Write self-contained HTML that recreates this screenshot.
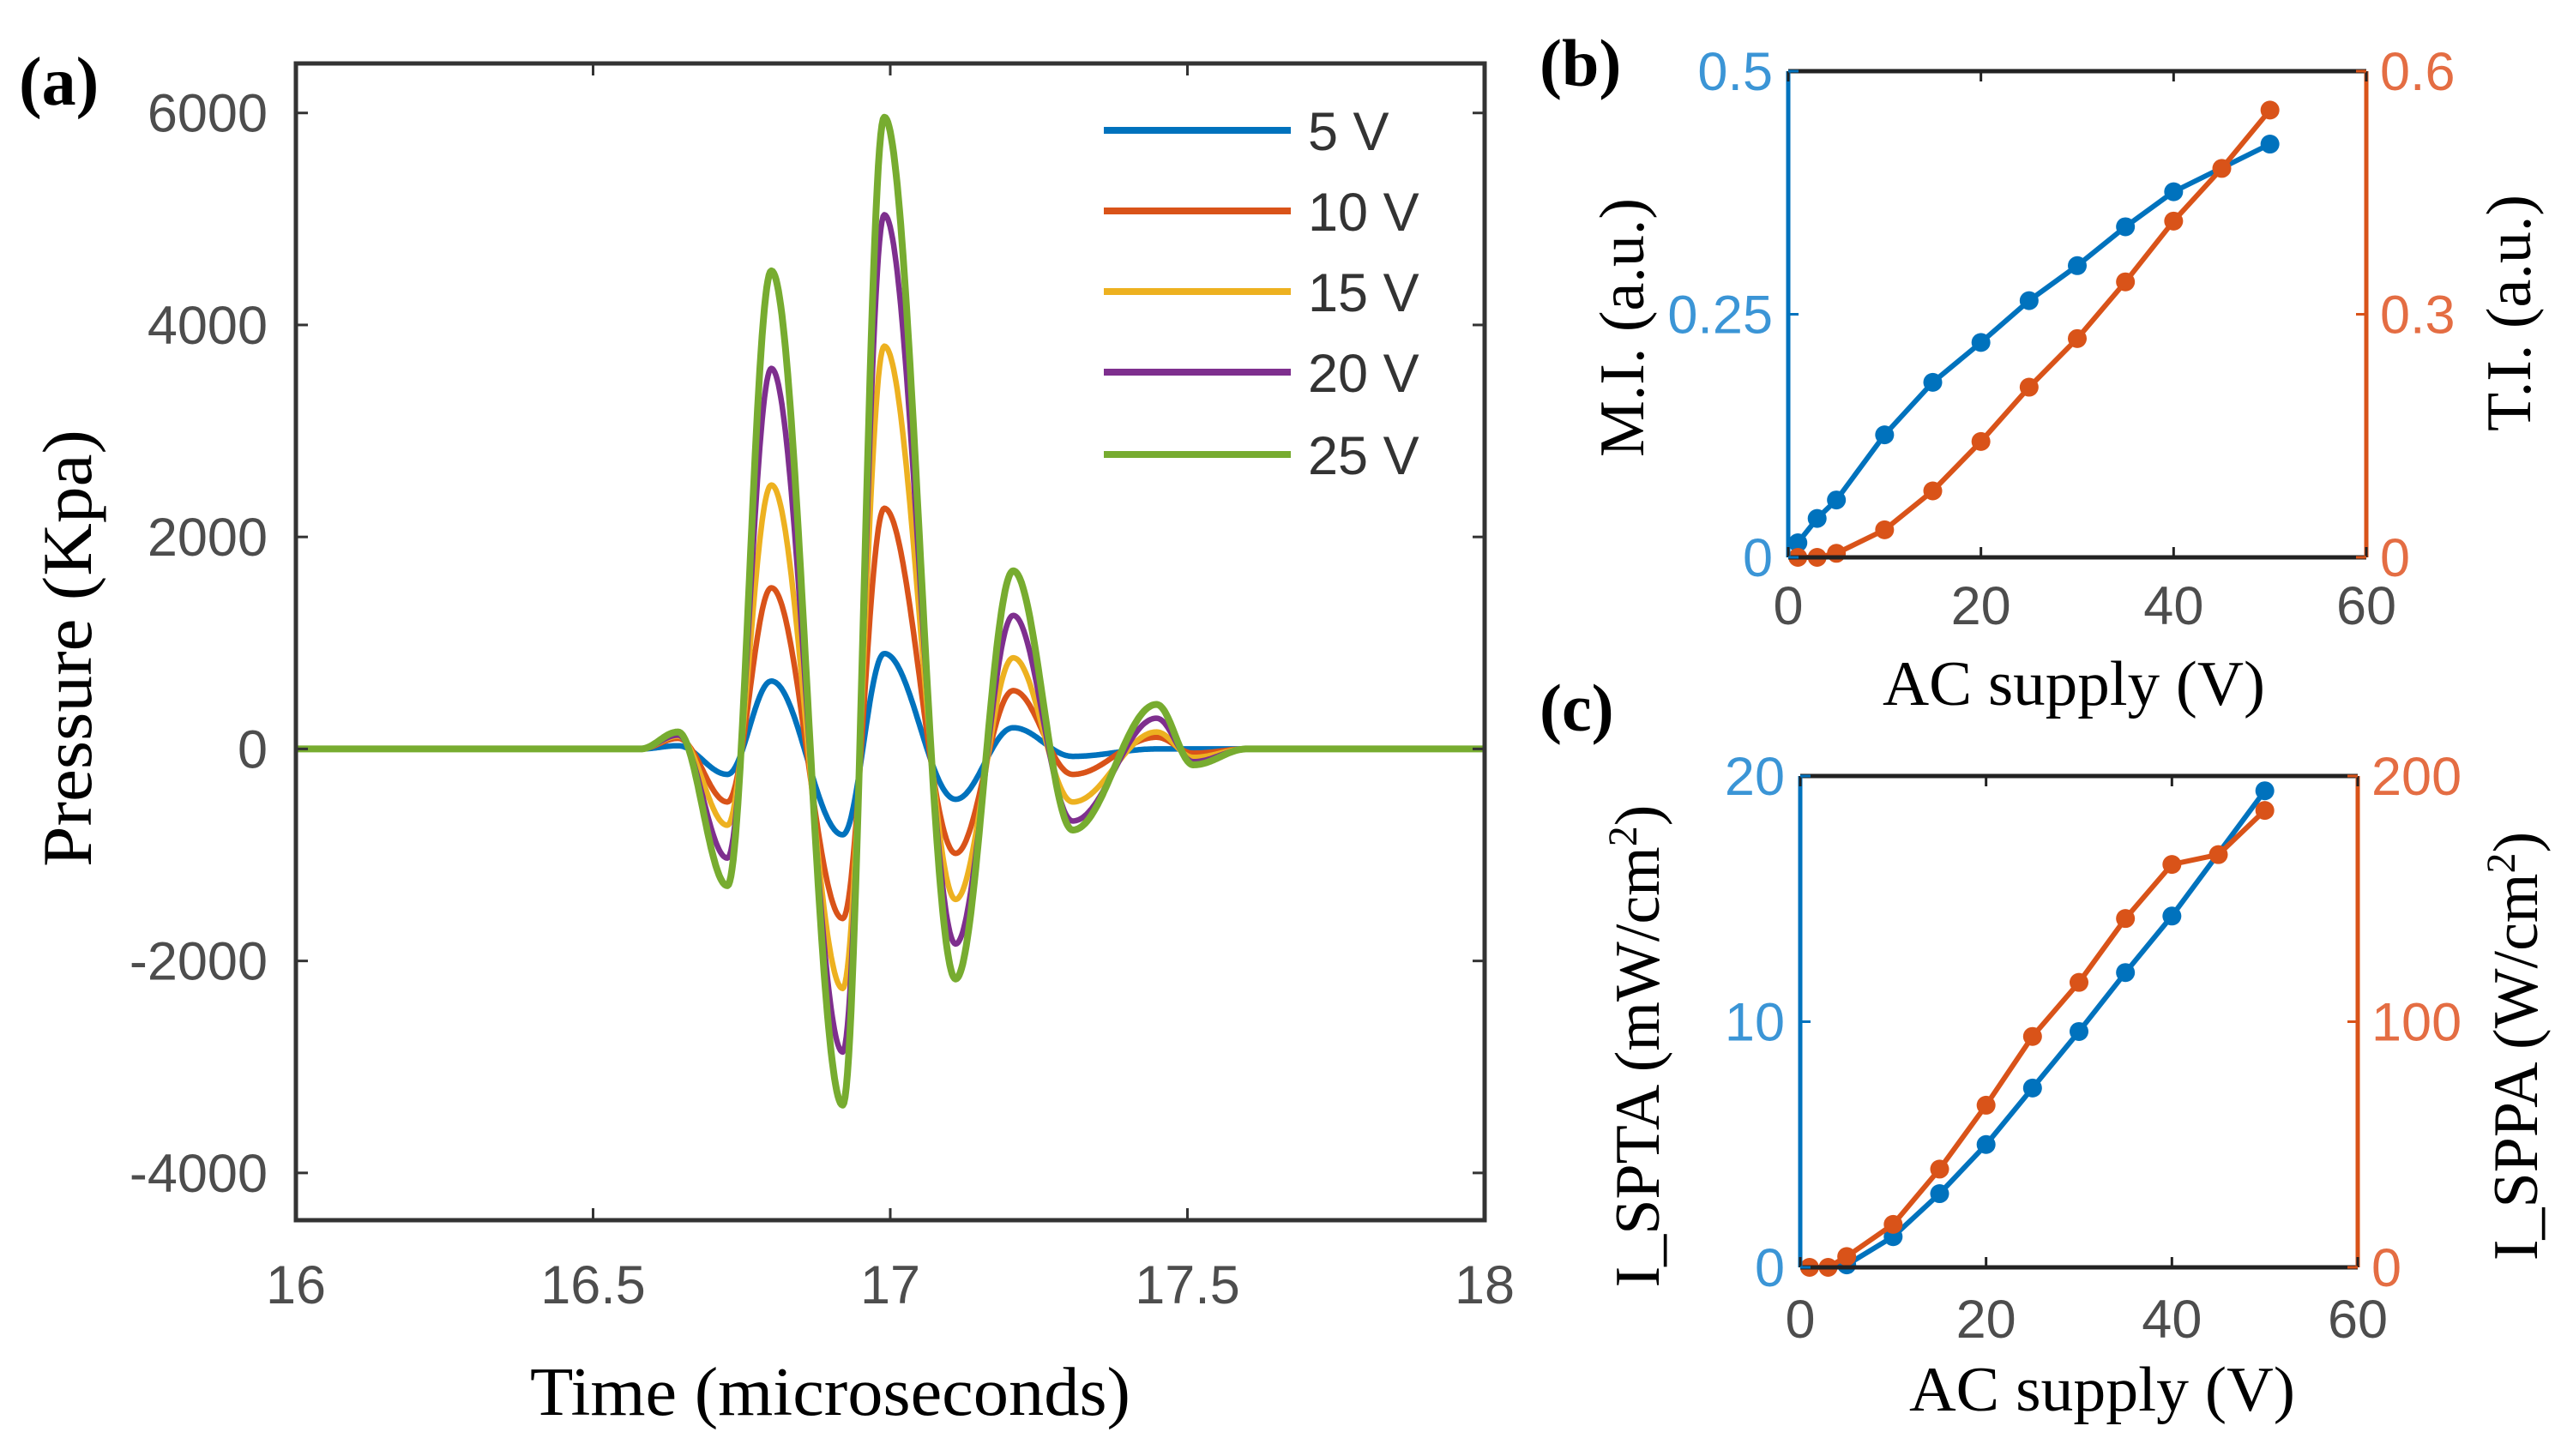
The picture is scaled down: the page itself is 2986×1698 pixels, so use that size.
<!DOCTYPE html>
<html><head><meta charset="utf-8"><style>
html,body{margin:0;padding:0;background:#fff;}
svg{display:block;}
.tk{font-family:"Liberation Sans",sans-serif;font-size:63px;fill:#4d4d4d;}
.sf{font-family:"Liberation Serif",serif;fill:#000;}
</style></head><body>
<svg id="fig" width="2986" height="1698" viewBox="0 0 2986 1698" xmlns="http://www.w3.org/2000/svg">
<g id="pa"></g>
<g id="pb"></g>
<g id="pc"></g>
</svg>
<script>
// ---- Panel (a) data ----
const timeKnots = [16, 16.58, 16.643, 16.726, 16.80, 16.92, 16.99, 17.11, 17.207, 17.307, 17.448, 17.51, 17.6, 18];
const p5V  = [0, 0, 30, -240, 640, -810, 900, -475, 200, -70, 0, 0, 0, 0];
const p10V = [0, 0, 100, -500, 1520, -1600, 2270, -985, 550, -240, 110, -40, 0, 0];
const p15V = [0, 0, 120, -720, 2490, -2260, 3800, -1420, 860, -500, 160, -80, 0, 0];
const p20V = [0, 0, 130, -1030, 3590, -2860, 5040, -1840, 1260, -680, 290, -120, 0, 0];
const p25V = [0, 0, 160, -1290, 4510, -3360, 5960, -2170, 1680, -765, 420, -150, 0, 0];
const seriesLabels = ["5 V", "10 V", "15 V", "20 V", "25 V"];
const aXTicks = [16, 16.5, 17, 17.5, 18];
const aXTickLabels = ["16", "16.5", "17", "17.5", "18"];
const aYTicks = [-4000, -2000, 0, 2000, 4000, 6000];
const aYTickLabels = ["-4000", "-2000", "0", "2000", "4000", "6000"];
// ---- Panel (b) data ----
const bVoltMI = [1, 3, 5, 10, 15, 20, 25, 30, 35, 40, 50];
const bMI = [0.015, 0.04, 0.059, 0.126, 0.18, 0.221, 0.264, 0.3, 0.34, 0.376, 0.425];
const bVoltTI = [1, 3, 5, 10, 15, 20, 25, 30, 35, 40, 45, 50];
const bTI = [0, 0, 0.005, 0.034, 0.082, 0.143, 0.21, 0.27, 0.34, 0.415, 0.48, 0.552];
const bLeftTicks = [0, 0.25, 0.5];
const bLeftTickLabels = ["0", "0.25", "0.5"];
const bRightTicks = [0, 0.3, 0.6];
const bRightTickLabels = ["0", "0.3", "0.6"];
// ---- Panel (c) data ----
const cVoltSPTA = [5, 10, 15, 20, 25, 30, 35, 40, 50];
const cSPTA = [0.1, 1.25, 3.0, 5.0, 7.3, 9.6, 12.0, 14.3, 19.4];
const cVoltSPPA = [1, 3, 5, 10, 15, 20, 25, 30, 35, 40, 45, 50];
const cSPPA = [0, 0, 4.4, 17.5, 40, 66, 94, 116, 142, 164, 168, 186];
const cLeftTicks = [0, 10, 20];
const cLeftTickLabels = ["0", "10", "20"];
const cRightTicks = [0, 100, 200];
const cRightTickLabels = ["0", "100", "200"];
const acTicks = [0, 20, 40, 60];
const acTickLabels = ["0", "20", "40", "60"];

const NS = "http://www.w3.org/2000/svg";
const BLUE = "#0072BD", ORANGE = "#D95319";
const COLORS = ["#0072BD", "#D95319", "#EDB120", "#7E2F8E", "#77AC30"];
function mk(parent, tag, attrs, text) {
  const e = document.createElementNS(NS, tag);
  for (const k in attrs) e.setAttribute(k, attrs[k]);
  if (text !== undefined) e.textContent = text;
  parent.appendChild(e);
  return e;
}

// ================= Panel (a) =================
(function () {
  const g = document.getElementById("pa");
  const L = 345, R = 1731, T = 74, B = 1423;
  const xMin = 16, xMax = 18, yMin = -4446, yMax = 6467;
  const xs = v => L + (v - xMin) / (xMax - xMin) * (R - L);
  const ys = v => B - (v - yMin) / (yMax - yMin) * (B - T);
  const series = [p5V, p10V, p15V, p20V, p25V];
  series.forEach((vals, si) => {
    let d = "";
    for (let i = 0; i < timeKnots.length - 1; i++) {
      const t0 = timeKnots[i], t1 = timeKnots[i + 1];
      const n = Math.max(4, Math.ceil((t1 - t0) / 0.002));
      for (let j = (i === 0 ? 0 : 1); j <= n; j++) {
        const u = j / n;
        const w = (1 - Math.cos(Math.PI * u)) / 2;
        const v = vals[i] + (vals[i + 1] - vals[i]) * w;
        const t = t0 + (t1 - t0) * u;
        d += (d ? "L" : "M") + xs(t).toFixed(1) + " " + ys(v).toFixed(1);
      }
    }
    const p = mk(g, "path", {d: d, fill: "none", stroke: COLORS[si], "stroke-width": si === 4 ? 8 : 6.5, "stroke-linejoin": "round"});
    
    
  });
  const box = mk(g, "rect", {x: L, y: T, width: R - L, height: B - T, fill: "none", stroke: "#333", "stroke-width": 5});
  
  
  aXTicks.forEach((v, i) => {
    const x = xs(v);
    mk(g, "line", {x1: x, x2: x, y1: B, y2: B - 14, stroke: "#333", "stroke-width": 3});
    mk(g, "line", {x1: x, x2: x, y1: T, y2: T + 14, stroke: "#333", "stroke-width": 3});
    const t = mk(g, "text", {x: x, y: 1520, "text-anchor": "middle", class: "tk"}, aXTickLabels[i]);
    
    
  });
  aYTicks.forEach((v, i) => {
    const y = ys(v);
    mk(g, "line", {x1: L, x2: L + 14, y1: y, y2: y, stroke: "#333", "stroke-width": 3});
    mk(g, "line", {x1: R, x2: R - 14, y1: y, y2: y, stroke: "#333", "stroke-width": 3});
    const t = mk(g, "text", {x: 312, y: y + 22, "text-anchor": "end", class: "tk"}, aYTickLabels[i]);
    
    
  });
  const legY = [152, 246, 340, 434, 530];
  const leg = mk(g, "g", {});
  
  
  seriesLabels.forEach((lab, i) => {
    const e = mk(leg, "g", {});
    
    
    mk(e, "line", {x1: 1287, x2: 1505, y1: legY[i], y2: legY[i], stroke: COLORS[i], "stroke-width": 8});
    mk(e, "text", {x: 1525, y: legY[i] + 23, class: "tk", style: "fill:#333"}, lab);
  });
  const xl = mk(g, "text", {x: 968, y: 1650, "text-anchor": "middle", class: "sf", "font-size": 80, textLength: 700, lengthAdjust: "spacingAndGlyphs"}, "Time (microseconds)");
  
  
  const yl = mk(g, "text", {x: 0, y: 0, "text-anchor": "middle", class: "sf", "font-size": 82, textLength: 510, lengthAdjust: "spacingAndGlyphs", transform: "translate(106,756) rotate(-90)"}, "Pressure (Kpa)");
  
  
  const pl = mk(g, "text", {x: 22, y: 122, class: "sf", "font-size": 80, "font-weight": "bold"}, "(a)");
  
  
})();

// ================= Panels (b) and (c) =================
function dualPanel(g, cfg) {
  const {L, R, T, B} = cfg;
  const xs = v => L + v / 60 * (R - L);
  const yl = v => B - v / cfg.lMax * (B - T);
  const yr = v => B - v / cfg.rMax * (B - T);
  function line(xv, yv, scale, color, name) {
    const d = xv.map((x, i) => (i ? "L" : "M") + xs(x).toFixed(1) + " " + scale(yv[i]).toFixed(1)).join("");
    const p = mk(g, "path", {d: d, fill: "none", stroke: color, "stroke-width": 6, "stroke-linejoin": "round"});
    
    
    xv.forEach((x, i) => {
      const c = mk(g, "circle", {cx: xs(x), cy: scale(yv[i]), r: 11, fill: color});
      
      
    });
  }
  line(cfg.lx, cfg.ly, yl, BLUE, cfg.lName);
  line(cfg.rx, cfg.ry, yr, ORANGE, cfg.rName);
  mk(g, "line", {x1: L, x2: R, y1: T, y2: T, stroke: "#222", "stroke-width": 5});
  mk(g, "line", {x1: L, x2: R, y1: B, y2: B, stroke: "#222", "stroke-width": 5});
  mk(g, "line", {x1: L, x2: L, y1: T, y2: B, stroke: BLUE, "stroke-width": 5});
  mk(g, "line", {x1: R, x2: R, y1: T, y2: B, stroke: ORANGE, "stroke-width": 5});
  acTicks.forEach((v, i) => {
    const x = xs(v);
    mk(g, "line", {x1: x, x2: x, y1: B, y2: B - 12, stroke: "#222", "stroke-width": 3});
    mk(g, "line", {x1: x, x2: x, y1: T, y2: T + 12, stroke: "#222", "stroke-width": 3});
    const t = mk(g, "text", {x: x, y: cfg.xTickY, "text-anchor": "middle", class: "tk"}, acTickLabels[i]);
    
    
  });
  cfg.lTicks.forEach((v, i) => {
    const y = yl(v);
    mk(g, "line", {x1: L, x2: L + 12, y1: y, y2: y, stroke: BLUE, "stroke-width": 3});
    const t = mk(g, "text", {x: L - 18, y: y + 22, "text-anchor": "end", class: "tk", style: "fill:#3b95d6"}, cfg.lLabels[i]);
    
    
  });
  cfg.rTicks.forEach((v, i) => {
    const y = yr(v);
    mk(g, "line", {x1: R, x2: R - 12, y1: y, y2: y, stroke: ORANGE, "stroke-width": 3});
    const t = mk(g, "text", {x: R + 16, y: y + 22, "text-anchor": "start", class: "tk", style: "fill:#e46d43"}, cfg.rLabels[i]);
    
    
  });
  const xt = mk(g, "text", {x: (cfg.xTitleL + cfg.xTitleR) / 2, y: cfg.xTitleY, "text-anchor": "middle", class: "sf", "font-size": 74, textLength: cfg.xTitleR - cfg.xTitleL, lengthAdjust: "spacingAndGlyphs"}, "AC supply (V)");
  
  
  function ytitle(cx, cy, parts, name) {
    const t = mk(g, "text", {x: 0, y: 0, "text-anchor": "middle", class: "sf", "font-size": 74, transform: "translate(" + cx + "," + cy + ") rotate(-90)"});
    
    
    parts.forEach(p => {
      mk(t, "tspan", p.sup ? {"baseline-shift": "super", "font-size": 48} : {}, p.t);
    });
  }
  ytitle(cfg.lTitleX, cfg.lTitleY, cfg.lTitle, 'left-y-axis-title');
  ytitle(cfg.rTitleX, cfg.rTitleY, cfg.rTitle, 'right-y-axis-title');
  const pl = mk(g, "text", {x: cfg.plX, y: cfg.plY, class: "sf", "font-size": 78, "font-weight": "bold"}, cfg.pl);
  
  
}

dualPanel(document.getElementById("pb"), {
  L: 2085, R: 2759, T: 83, B: 650, lMax: 0.5, rMax: 0.6,
  lx: bVoltMI, ly: bMI, rx: bVoltTI, ry: bTI, lName: "mi", rName: "ti",
  lTicks: bLeftTicks, lLabels: bLeftTickLabels, rTicks: bRightTicks, rLabels: bRightTickLabels,
  xTickY: 728, xTitleL: 2195, xTitleR: 2641, xTitleY: 822,
  lTitleX: 1916, lTitleY: 382, lTitle: [{t: "M.I. (a.u.)"}],
  rTitleX: 2950, rTitleY: 365, rTitle: [{t: "T.I. (a.u.)"}],
  pl: "(b)", plX: 1795, plY: 100
});
dualPanel(document.getElementById("pc"), {
  L: 2099, R: 2749, T: 905, B: 1478, lMax: 20, rMax: 200,
  lx: cVoltSPTA, ly: cSPTA, rx: cVoltSPPA, ry: cSPPA, lName: "ispta", rName: "isppa",
  lTicks: cLeftTicks, lLabels: cLeftTickLabels, rTicks: cRightTicks, rLabels: cRightTickLabels,
  xTickY: 1560, xTitleL: 2226, xTitleR: 2676, xTitleY: 1645,
  lTitleX: 1934, lTitleY: 1220, lTitle: [{t: "I_SPTA (mW/cm"}, {t: "2", sup: true}, {t: ")"}],
  rTitleX: 2958, rTitleY: 1220, rTitle: [{t: "I_SPPA (W/cm"}, {t: "2", sup: true}, {t: ")"}],
  pl: "(c)", plX: 1795, plY: 852
});
</script>
</body></html>
